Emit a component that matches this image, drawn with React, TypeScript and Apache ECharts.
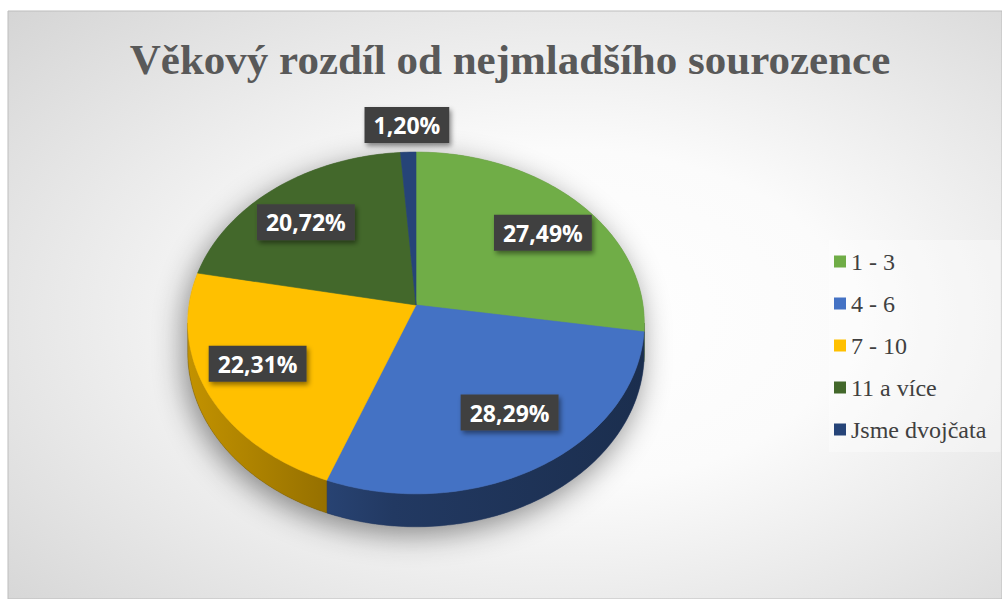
import React, { useEffect, useRef } from "react";
import * as echarts from "echarts";

// ---------- data ----------
const title = "Věkový rozdíl od nejmladšího sourozence";
const categories = ["1 - 3", "4 - 6", "7 - 10", "11 a více", "Jsme dvojčata"];
const values = [27.49, 28.29, 22.31, 20.72, 1.2];
const colors = ["#70AD47", "#4472C4", "#FFC000", "#43682B", "#264478"];

// ---------- 3D pie geometry ----------
const CX = 416;
const CY = 305;
const A = 227;
const B = 169;
const P = 0.105;
const D = 29.5;
const VIS_START = Math.acos(-P);
const VIS_END = 2 * Math.PI - VIS_START;

function proj(theta: number, fx: number, fy: number) {
  const u = fx * Math.sin(theta);
  const v = -fy * Math.cos(theta);
  const k = 1 / (1 - P * v);
  return [CX + A * u * k, CY + B * v * k, D * k];
}

function hexToRgb(h: string) {
  const n = parseInt(h.slice(1), 16);
  return [(n >> 16) & 255, (n >> 8) & 255, n & 255];
}
function shade(h: string, f: number) {
  const [r, g, b] = hexToRgb(h);
  return `rgb(${Math.round(r * f)},${Math.round(g * f)},${Math.round(b * f)})`;
}
function fmt(v: number) {
  return v.toFixed(2).replace(".", ",") + "%";
}

const total = values.reduce((a, b) => a + b, 0);

function arcPoints(s: number, e: number, bottom: boolean) {
  const pts: number[][] = [];
  const n = Math.max(2, Math.ceil(((e - s) * 180) / Math.PI));
  for (let j = 0; j <= n; j++) {
    const t = s + ((e - s) * j) / n;
    const p = proj(t, 1, 1);
    pts.push([p[0], bottom ? p[1] + p[2] : p[1]]);
  }
  return pts;
}

function makeSeries(i: number) {
  const before = values.slice(0, i).reduce((a, b) => a + b, 0);
  return {
    type: "custom",
    name: categories[i],
    coordinateSystem: "none",
    itemStyle: { color: colors[i] },
    data: [[values[i]]],
    renderItem: (_params: any, api: any) => {
      const val = api.value(0);
      const s = (before / total) * 2 * Math.PI;
      const e = ((before + val) / total) * 2 * Math.PI;
      const children: any[] = [];

      if (i === 0) {
        const top = arcPoints(VIS_END - 2 * Math.PI, VIS_START, false);
        const bot = arcPoints(VIS_START, VIS_END, true);
        children.push({
          type: "polygon",
          z2: 0,
          shape: { points: top.concat(bot) },
          style: {
            fill: "#777",
            shadowBlur: 30,
            shadowColor: "rgba(0,0,0,0.45)",
            shadowOffsetX: -4,
            shadowOffsetY: 8,
          },
        });
      }

      const ws = Math.max(s, VIS_START);
      const we = Math.min(e, VIS_END);
      if (we > ws) {
        const top = arcPoints(ws, we, false);
        const bot = arcPoints(ws, we, true).reverse();
        children.push({
          type: "polygon",
          z2: 5,
          shape: { points: top.concat(bot) },
          style: {
            fill: new echarts.graphic.LinearGradient(
              CX - A,
              0,
              CX + A,
              0,
              [
                { offset: 0, color: shade(colors[i], 0.76) },
                { offset: 0.45, color: shade(colors[i], 0.5) },
                { offset: 1, color: shade(colors[i], 0.4) },
              ],
              true
            ),
            stroke: shade(colors[i], 0.5),
            lineWidth: 0.5,
          },
        });
      }

      const face = [[CX, CY]].concat(arcPoints(s, e, false));
      children.push({
        type: "polygon",
        z2: 10,
        shape: { points: face },
        style: { fill: colors[i], stroke: colors[i], lineWidth: 0.6 },
      });

      const mid = (s + e) / 2;
      const inside = val >= 5;
      const lp = inside ? proj(mid, 0.77, 0.69) : proj(mid, 1.2, 1.2);
      children.push({
        type: "text",
        z2: 20,
        x: lp[0],
        y: lp[1],
        style: {
          text: fmt(val),
          fill: "#ffffff",
          font: 'bold 23px "Open Sans"',
          align: "center",
          verticalAlign: "middle",
          backgroundColor: "#414141",
          padding: [7, 9, 6, 9],
          shadowBlur: 5,
          shadowColor: "rgba(0,0,0,0.45)",
          shadowOffsetX: 2,
          shadowOffsetY: 3,
        },
      });

      return { type: "group", children };
    },
  };
}

export default function App() {
  const ref = useRef<HTMLDivElement>(null);
  useEffect(() => {
    if (!ref.current) return;
    const chart = echarts.init(ref.current, undefined, { renderer: "svg" });
    chart.setOption({
      animation: false,
      graphic: [
        {
          type: "rect",
          z: -10,
          shape: { x: 8, y: 11, width: 994, height: 588 },
          style: {
            fill: new echarts.graphic.RadialGradient(0.56, 0.52, 0.95, [
              { offset: 0, color: "#ffffff" },
              { offset: 0.3, color: "#fbfbfb" },
              { offset: 1, color: "#c6c6c6" },
            ]),
            stroke: "#bdbdbd",
            lineWidth: 1,
          },
        },
        {
          type: "text",
          z: 10,
          x: 510,
          y: 59,
          style: {
            text: title,
            fill: "#595959",
            font: 'bold 43px "Liberation Serif"',
            align: "center",
            verticalAlign: "middle",
          },
        },
      ],
      legend: {
        orient: "vertical",
        left: 829,
        top: 240,
        icon: "rect",
        itemWidth: 12,
        itemHeight: 12,
        itemGap: 17,
        padding: [9, 14, 10, 5],
        backgroundColor: "rgba(255,255,255,0.35)",
        selectedMode: false,
        textStyle: {
          fontFamily: "'Liberation Serif', serif",
          fontSize: 24,
          color: "#404040",
          lineHeight: 25,
        },
        data: categories,
      },
      series: categories.map((_, i) => makeSeries(i)),
    });
    return () => chart.dispose();
  }, []);
  return (
    <div
      ref={ref}
      style={{ position: "absolute", left: 0, top: 0, width: 1002, height: 599 }}
    />
  );
}
